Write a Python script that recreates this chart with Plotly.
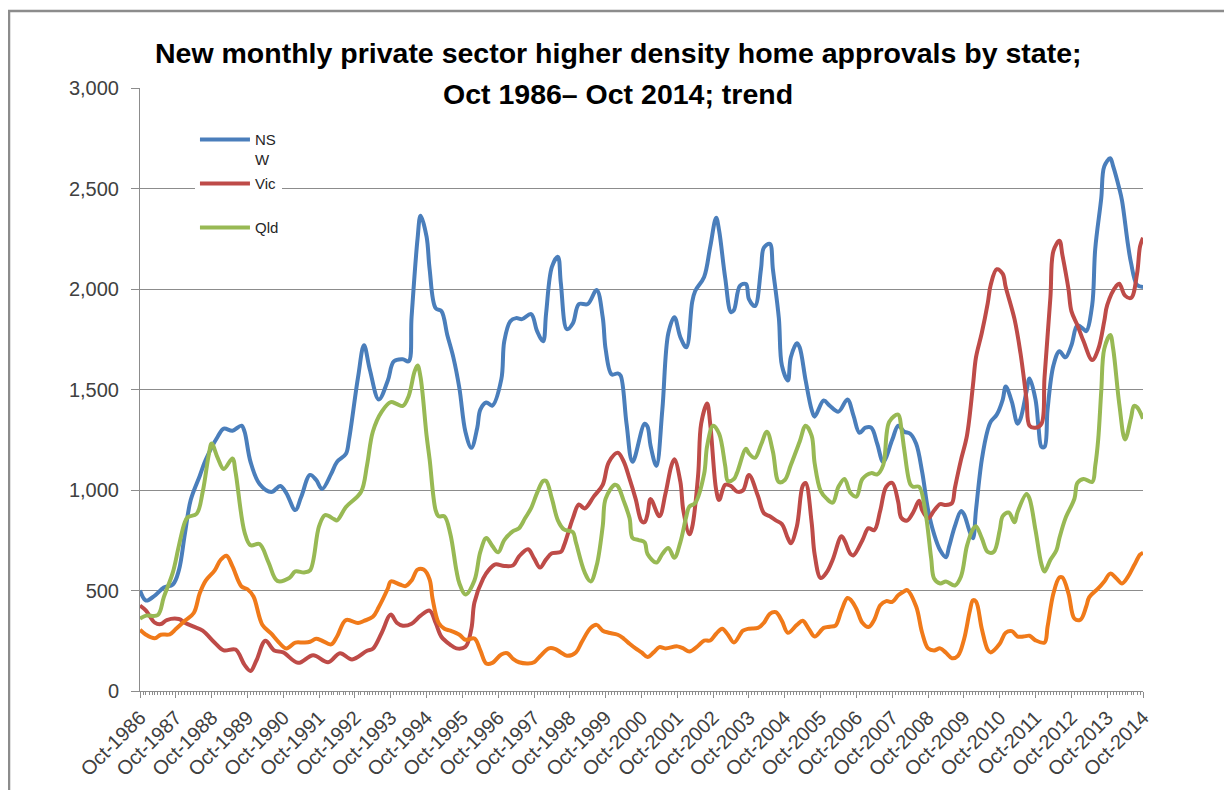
import pandas as pd
import plotly.graph_objects as go

# ---------------- data (months counted from Oct-1986) ----------------
nsw_month = [0, 2, 5, 8, 11, 13, 15, 17, 20, 22, 26, 28, 31, 34, 35, 37, 40, 44, 47, 49, 52, 54, 57, 59, 61, 64, 66, 69, 70, 73, 75, 77, 80, 83, 85, 88, 90, 91, 93, 94, 96, 97, 99, 101, 103, 105, 107, 109, 111, 113, 114, 116, 118, 121, 122, 124, 126, 128, 131, 133, 135, 136, 138, 140, 141, 143, 145, 147, 150, 153, 155, 156, 158, 160, 161, 163, 165, 169, 170, 171, 173, 175, 177, 179, 181, 183, 185, 186, 189, 191, 193, 194, 196, 198, 199, 201, 203, 204, 206, 208, 209, 211, 212, 214, 215, 217, 218, 220, 221, 223, 225, 226, 229, 231, 234, 237, 239, 241, 243, 245, 247, 249, 252, 254, 256, 258, 260, 262, 264, 266, 268, 270, 271, 273, 275, 276, 278, 279, 280, 282, 284, 285, 287, 289, 290, 292, 294, 295, 297, 298, 300, 301, 302, 303, 304, 306, 308, 310, 312, 314, 316, 317, 319, 320, 322, 323, 325, 326, 328, 329, 331, 332, 334, 336]
nsw_value = [500, 450, 475, 515, 530, 600, 780, 950, 1070, 1150, 1265, 1305, 1295, 1320, 1290, 1140, 1030, 990, 1020, 985, 900, 965, 1075, 1050, 1005, 1080, 1140, 1180, 1250, 1560, 1720, 1600, 1450, 1545, 1640, 1650, 1640, 1860, 2250, 2365, 2260, 2100, 1905, 1890, 1770, 1660, 1505, 1290, 1210, 1310, 1400, 1435, 1420, 1550, 1740, 1840, 1855, 1850, 1875, 1790, 1740, 1880, 2110, 2160, 2030, 1800, 1830, 1925, 1925, 1995, 1860, 1700, 1575, 1580, 1570, 1330, 1140, 1330, 1315, 1220, 1120, 1400, 1780, 1860, 1760, 1710, 1935, 1990, 2060, 2210, 2355, 2290, 2055, 1885, 1895, 2015, 2025, 1950, 1915, 2100, 2205, 2225, 2100, 1855, 1620, 1545, 1660, 1730, 1710, 1545, 1400, 1365, 1445, 1420, 1390, 1450, 1370, 1285, 1310, 1310, 1230, 1140, 1250, 1320, 1290, 1280, 1230, 1090, 900, 780, 700, 665, 715, 820, 895, 880, 790, 760, 900, 1150, 1300, 1340, 1375, 1450, 1515, 1440, 1330, 1355, 1490, 1555, 1450, 1310, 1215, 1215, 1400, 1620, 1690, 1660, 1720, 1820, 1800, 1790, 1920, 2200, 2450, 2610, 2650, 2610, 2500, 2440, 2220, 2130, 2020, 2010]

vic_month = [0, 2, 5, 7, 9, 13, 15, 18, 21, 25, 28, 32, 35, 37, 39, 42, 45, 48, 53, 58, 63, 67, 71, 76, 78, 81, 84, 86, 88, 91, 94, 97, 99, 101, 104, 106, 109, 111, 112, 115, 117, 119, 122, 125, 127, 130, 132, 134, 136, 138, 141, 142, 145, 147, 149, 152, 155, 157, 160, 162, 164, 166, 168, 169, 170, 171, 174, 176, 178, 179, 181, 182, 184, 185, 187, 188, 190, 191, 193, 194, 196, 198, 200, 202, 204, 207, 209, 211, 213, 215, 217, 218, 220, 222, 223, 225, 226, 228, 230, 232, 235, 236, 238, 239, 242, 244, 246, 248, 250, 252, 254, 255, 257, 259, 261, 262, 264, 266, 268, 270, 272, 273, 275, 277, 279, 280, 282, 284, 285, 287, 289, 290, 293, 295, 297, 298, 300, 302, 303, 305, 306, 308, 309, 311, 312, 314, 316, 319, 321, 323, 324, 327, 328, 330, 332, 334, 335, 336]
vic_value = [425, 400, 340, 333, 353, 358, 340, 320, 300, 240, 202, 206, 130, 100, 153, 250, 202, 192, 140, 178, 143, 188, 157, 200, 210, 290, 380, 340, 325, 335, 375, 400, 340, 270, 230, 212, 220, 310, 440, 560, 605, 630, 622, 625, 670, 705, 660, 614, 655, 685, 692, 722, 860, 928, 908, 967, 1026, 1137, 1185, 1143, 1055, 957, 845, 840, 880, 955, 870, 980, 1120, 1153, 1040, 898, 780, 815, 1075, 1330, 1430, 1330, 1000, 950, 1026, 1020, 992, 998, 1075, 970, 885, 869, 849, 830, 760, 735, 820, 1020, 1035, 840, 680, 562, 590, 653, 770, 750, 682, 675, 750, 810, 800, 898, 1016, 1035, 940, 862, 848, 888, 947, 900, 859, 898, 930, 925, 935, 1010, 1150, 1271, 1520, 1660, 1781, 1930, 2020, 2098, 2075, 2010, 1850, 1680, 1450, 1320, 1310, 1330, 1560, 1960, 2190, 2240, 2170, 2000, 1890, 1820, 1741, 1647, 1700, 1840, 1920, 2015, 2026, 1967, 1955, 2075, 2212, 2255]

qld_month = [0, 2, 6, 8, 11, 13, 15, 16, 19, 21, 23, 24, 26, 28, 31, 32, 35, 37, 40, 43, 46, 50, 52, 55, 57, 60, 62, 65, 66, 69, 74, 76, 78, 81, 84, 86, 88, 90, 92, 93, 94, 96, 97, 99, 100, 102, 104, 106, 107, 109, 112, 114, 116, 118, 120, 122, 125, 127, 129, 131, 133, 135, 136, 138, 140, 142, 145, 146, 149, 151, 153, 155, 156, 159, 160, 162, 164, 165, 167, 169, 170, 173, 175, 177, 179, 181, 183, 184, 186, 189, 190, 192, 194, 196, 197, 199, 200, 203, 204, 206, 208, 210, 212, 214, 216, 218, 221, 223, 225, 226, 228, 230, 232, 234, 236, 238, 240, 242, 245, 247, 249, 251, 254, 255, 256, 258, 259, 261, 263, 265, 266, 268, 270, 273, 275, 277, 279, 280, 282, 284, 286, 288, 289, 291, 293, 294, 297, 298, 300, 302, 303, 305, 307, 308, 310, 313, 314, 316, 319, 320, 321, 322, 323, 325, 326, 328, 330, 332, 333, 334, 336]
qld_value = [360, 375, 378, 467, 590, 722, 840, 865, 882, 990, 1175, 1231, 1160, 1104, 1157, 1090, 790, 725, 731, 643, 548, 562, 595, 590, 600, 820, 875, 855, 849, 915, 990, 1124, 1290, 1390, 1437, 1428, 1418, 1467, 1590, 1620, 1560, 1271, 1153, 900, 869, 869, 780, 600, 535, 480, 550, 692, 761, 722, 690, 751, 795, 810, 859, 910, 986, 1045, 1045, 957, 849, 804, 790, 741, 590, 545, 624, 820, 957, 1026, 1020, 947, 859, 761, 751, 740, 682, 639, 682, 712, 663, 741, 870, 918, 935, 1080, 1220, 1320, 1280, 1120, 1045, 1055, 1085, 1205, 1182, 1160, 1225, 1290, 1192, 1040, 1050, 1124, 1240, 1320, 1271, 1133, 996, 957, 937, 1016, 1055, 986, 967, 1055, 1084, 1078, 1124, 1340, 1375, 1310, 1200, 1030, 1016, 1016, 898, 660, 560, 535, 545, 525, 570, 722, 805, 820, 761, 692, 692, 800, 870, 888, 839, 890, 980, 957, 800, 630, 594, 653, 700, 761, 859, 957, 1035, 1055, 1040, 1120, 1250, 1490, 1702, 1771, 1702, 1428, 1251, 1360, 1418, 1412, 1355]

wa_month = [0, 2, 5, 7, 10, 12, 15, 18, 20, 22, 25, 27, 29, 31, 34, 36, 38, 41, 44, 46, 49, 52, 55, 57, 59, 61, 64, 66, 69, 73, 75, 78, 80, 83, 84, 87, 89, 91, 93, 95, 97, 98, 100, 102, 104, 107, 109, 112, 114, 116, 118, 121, 123, 125, 127, 130, 132, 134, 137, 139, 141, 143, 146, 148, 151, 153, 155, 157, 160, 162, 164, 166, 168, 170, 172, 174, 176, 180, 182, 184, 187, 189, 191, 193, 195, 197, 199, 202, 204, 207, 209, 211, 213, 215, 217, 220, 222, 224, 226, 229, 231, 233, 235, 237, 238, 240, 242, 244, 246, 248, 250, 252, 254, 256, 257, 260, 262, 264, 266, 268, 270, 272, 274, 276, 278, 279, 280, 282, 284, 285, 288, 290, 292, 294, 296, 298, 300, 303, 304, 306, 308, 309, 311, 313, 315, 317, 318, 321, 323, 325, 327, 329, 331, 333, 335, 336]
wa_value = [305, 280, 262, 280, 282, 308, 349, 388, 486, 549, 600, 653, 673, 620, 520, 506, 470, 330, 285, 251, 212, 241, 241, 245, 260, 250, 232, 271, 353, 338, 349, 369, 418, 510, 545, 530, 522, 550, 604, 604, 555, 460, 339, 310, 300, 280, 255, 261, 202, 137, 140, 182, 188, 160, 143, 137, 143, 173, 212, 210, 192, 175, 192, 245, 314, 329, 300, 290, 280, 261, 235, 212, 192, 169, 192, 218, 212, 222, 212, 196, 225, 251, 251, 285, 310, 280, 241, 300, 310, 314, 339, 384, 392, 349, 290, 329, 349, 310, 271, 314, 320, 325, 400, 463, 455, 408, 339, 318, 355, 427, 447, 443, 476, 496, 502, 420, 290, 212, 202, 212, 190, 163, 175, 255, 400, 451, 445, 310, 205, 192, 235, 290, 298, 271, 271, 275, 252, 241, 320, 486, 565, 565, 486, 360, 355, 420, 467, 510, 545, 584, 561, 535, 569, 624, 678, 688]

y_ticks = [0, 500, 1000, 1500, 2000, 2500, 3000]

START = pd.Timestamp("1986-10-01")
END = pd.Timestamp("2014-10-01")


def to_dates(months):
    return [START + pd.DateOffset(months=int(m)) for m in months]


series = [
    ("NS<br>W", nsw_month, nsw_value, "#4A7EBB", "legend", True),
    ("Vic", vic_month, vic_value, "#BE4B48", "legend2", True),
    ("Qld", qld_month, qld_value, "#98B954", "legend3", True),
    ("WA", wa_month, wa_value, "#F07A1A", "legend", False),
]

fig = go.Figure()
for name, months, values, color, leg, show in series:
    fig.add_trace(go.Scatter(
        x=to_dates(months), y=values, name=name, mode="lines",
        line=dict(color=color, width=4, shape="spline", smoothing=1.0),
        legend=leg, showlegend=show,
    ))

GRID = "#8C8C8C"
TXT = "#404040"
FONT = "Liberation Sans, Arial, sans-serif"

legend_common = dict(
    xref="paper", yref="paper", xanchor="left", yanchor="top",
    bgcolor="white", borderwidth=0, font=dict(family=FONT, size=15, color="#262626"),
    itemwidth=50, valign="top", tracegroupgap=0,
)

# page body has an 8px default margin, so the figure is sized/offset to keep
# the plot area at the reference's pixel position
fig.update_layout(
    width=1224, height=782,
    paper_bgcolor="white", plot_bgcolor="white",
    margin=dict(l=132, r=89, t=80, b=99),
    font=dict(family=FONT, color=TXT),
    legend=dict(x=0.0548, y=0.9416, **legend_common),
    legend2=dict(x=0.0548, y=0.8686, **legend_common),
    legend3=dict(x=0.0548, y=0.7956, **legend_common),
    xaxis=dict(
        type="date", range=[START, END], automargin=False,
        tick0=START, dtick="M12", tickformat="%b-%Y", tickangle=-45,
        ticks="outside", ticklen=6, tickcolor=GRID, tickwidth=1,
        showline=True, linecolor=GRID, linewidth=1, showgrid=False, zeroline=False,
        tickfont=dict(family=FONT, size=20, color=TXT),
        minor=dict(dtick="M1", ticks="outside", ticklen=3, tickcolor=GRID, showgrid=False),
    ),
    yaxis=dict(
        range=[0, 3000], tickvals=y_ticks, tickformat=",", automargin=False,
        ticks="outside", ticklen=8, tickcolor=GRID, ticklabelstandoff=8,
        showline=True, linecolor=GRID, linewidth=1,
        showgrid=True, gridcolor=GRID, gridwidth=1, zeroline=False,
        tickfont=dict(family=FONT, size=20, color=TXT),
    ),
    annotations=[
        dict(text="<b>New monthly private sector higher density home approvals by state;</b>",
             xref="paper", yref="paper", x=0.477, y=1.058, xanchor="center", yanchor="middle",
             showarrow=False, font=dict(family=FONT, size=28.5, color="black")),
        dict(text="<b>Oct 1986\u2013 Oct 2014; trend</b>",
             xref="paper", yref="paper", x=0.477, y=0.990, xanchor="center", yanchor="middle",
             showarrow=False, font=dict(family=FONT, size=28.5, color="black")),
    ],
    shapes=[
        dict(type="rect", xref="paper", yref="paper", x0=-0.1306, x1=1.2, y0=-0.3, y1=1.1277,
             line=dict(color="#8C8C8C", width=2.5), fillcolor="rgba(0,0,0,0)", layer="below"),
    ],
)

fig.write_html("out.html")
